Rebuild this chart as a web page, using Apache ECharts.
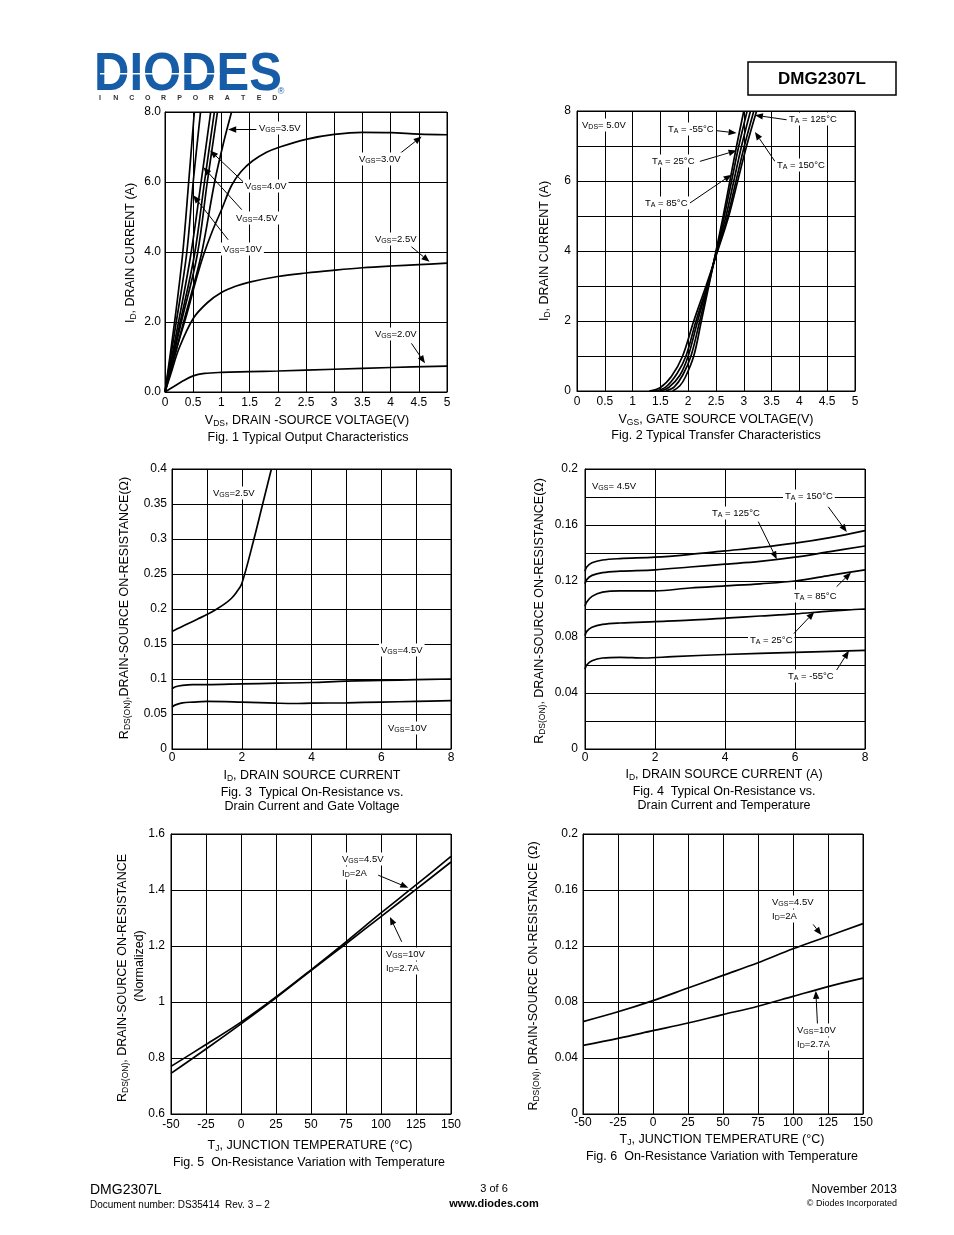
<!DOCTYPE html>
<html><head><meta charset="utf-8">
<script src="https://cdn.jsdelivr.net/npm/echarts@6/dist/echarts.min.js"></script>
<style>html,body{margin:0;padding:0;background:#fff}#c{width:954px;height:1235px}</style>
</head><body><div id="c"></div>
<script>
// ================= DATA =================
// Fig.1 Typical Output Characteristics  [VDS (V), ID (A)]
const fig1_lineA   = [[0,0],[0.17,2],[0.31,3.9],[0.42,6],[0.52,8]];
const fig1_vgs10   = [[0,0],[0.2,2],[0.38,3.9],[0.5,6],[0.63,8]];
const fig1_vgs45   = [[0,0],[0.24,2],[0.455,3.9],[0.64,6],[0.81,8]];
const fig1_lineD   = [[0,0],[0.27,2],[0.52,3.9],[0.7,6],[0.875,8]];
const fig1_vgs40   = [[0,0],[0.29,2],[0.57,3.9],[0.75,6],[0.93,8]];
const fig1_vgs35   = [[0,0],[0.33,2],[0.64,3.9],[0.88,6],[1.05,7.2],[1.18,8]];
const fig1_vgs30   = [[0,0],[0.2,1.2],[0.4,2.3],[0.55,3.2],[0.68,3.9],[0.84,4.6],[1.0,5.2],[1.18,5.9],[1.35,6.3],[1.55,6.6],[1.8,6.85],[2.0,6.98],[2.5,7.22],[3.0,7.36],[3.5,7.42],[4.0,7.41],[4.5,7.37],[5.0,7.35]];
const fig1_vgs25   = [[0,0],[0.1,0.5],[0.25,1.25],[0.5,2.1],[0.75,2.55],[1,2.84],[1.25,3.02],[1.5,3.14],[2,3.3],[2.5,3.4],[3,3.48],[3.5,3.55],[4,3.6],[4.5,3.64],[5,3.68]];
const fig1_vgs20   = [[0,0],[0.15,0.15],[0.3,0.3],[0.5,0.46],[0.7,0.53],[1,0.56],[1.5,0.58],[2,0.6],[3,0.65],[4,0.7],[5,0.74]];

// Fig.2 Typical Transfer Characteristics [VGS (V), ID (A)]
const fig2_tm55  = [[1.72,0],[1.85,0.15],[1.95,0.4],[2.1,1.0],[2.23,1.95],[2.37,3.0],[2.5,4.0],[2.63,5.0],[2.75,6.0],[2.87,7.0],[3.0,8]];
const fig2_t25   = [[1.6,0],[1.75,0.12],[1.9,0.45],[2.05,1.0],[2.2,1.95],[2.36,3.0],[2.51,4.0],[2.65,5.0],[2.78,6.0],[2.91,7.0],[3.06,8]];
const fig2_t85   = [[1.5,0],[1.65,0.1],[1.85,0.45],[2.0,1.0],[2.17,2.0],[2.35,3.0],[2.51,4.0],[2.68,5.0],[2.82,6.0],[2.96,7.0],[3.12,8]];
const fig2_t125  = [[1.4,0],[1.6,0.12],[1.8,0.5],[1.96,1.0],[2.14,2.0],[2.34,3.0],[2.52,4.0],[2.71,5.0],[2.86,6.0],[3.01,7.0],[3.18,8]];
const fig2_t150  = [[1.3,0],[1.5,0.1],[1.7,0.42],[1.9,1.0],[2.1,2.0],[2.32,3.0],[2.53,4.0],[2.73,5.0],[2.89,6.0],[3.05,7.0],[3.23,8]];

// Fig.3 RDS(ON) vs ID and VGS [ID (A), RDS (ohm)]
const fig3_vgs25 = [[0,0.168],[0.25,0.174],[0.5,0.18],[0.75,0.186],[1,0.192],[1.25,0.199],[1.5,0.207],[1.7,0.215],[1.85,0.224],[2,0.236],[2.35,0.3],[2.6,0.35],[2.85,0.4]];
const fig3_vgs45 = [[0,0.086],[0.1,0.089],[0.3,0.091],[0.6,0.092],[1,0.092],[2,0.093],[3,0.094],[4,0.095],[5,0.097],[6,0.098],[7,0.099],[8,0.1]];
const fig3_vgs10 = [[0,0.06],[0.1,0.063],[0.3,0.066],[0.6,0.067],[1,0.068],[2,0.067],[3,0.0655],[3.5,0.065],[4,0.0655],[5,0.066],[6,0.067],[7,0.068],[8,0.069]];

// Fig.4 RDS(ON) vs ID and Temperature [ID (A), RDS (ohm)]
const fig4_t150 = [[0,0.127],[0.05,0.13],[0.2,0.133],[0.5,0.135],[1,0.136],[2,0.137],[3,0.139],[4,0.1415],[5,0.144],[6,0.147],[7,0.151],[8,0.156]];
const fig4_t125 = [[0,0.118],[0.05,0.121],[0.2,0.124],[0.5,0.126],[1,0.127],[2,0.128],[3,0.13],[4,0.132],[5,0.134],[6,0.137],[7,0.141],[8,0.145]];
const fig4_t85  = [[0,0.102],[0.05,0.105],[0.2,0.109],[0.5,0.112],[1,0.113],[2,0.113],[3,0.115],[4,0.1165],[5,0.118],[6,0.12],[7,0.124],[8,0.128]];
const fig4_t25  = [[0,0.081],[0.05,0.084],[0.2,0.087],[0.5,0.089],[1,0.09],[2,0.091],[3,0.092],[4,0.0935],[5,0.095],[6,0.0965],[7,0.0985],[8,0.1]];
const fig4_tm55 = [[0,0.057],[0.05,0.06],[0.2,0.063],[0.5,0.065],[1,0.0655],[1.7,0.065],[2.5,0.066],[4,0.0675],[6,0.069],[8,0.0705]];

// Fig.5 Normalized RDS(ON) vs TJ [TJ (C), normalized]
const fig5_temps = [-50,-25,0,25,50,75,100,125,150];
const fig5_vgs45 = [0.77,0.848,0.928,1.018,1.115,1.215,1.318,1.418,1.52];
const fig5_vgs10 = [0.745,0.832,0.922,1.015,1.112,1.208,1.305,1.402,1.50];

// Fig.6 RDS(ON) vs TJ [TJ (C), ohm]
const fig6_temps = [-50,-25,0,25,50,75,100,125,150];
const fig6_vgs45 = [0.066,0.073,0.081,0.09,0.099,0.108,0.118,0.127,0.136];
const fig6_vgs10 = [0.049,0.054,0.0595,0.065,0.071,0.077,0.084,0.091,0.097];

// ================= ANNOTATION ARROWS (data units: [from],[to]) =================
const arrows1 = [[[1.62,7.5],[1.12,7.5]],[[1.39,6.0],[0.8,6.9]],[[1.36,5.21],[0.68,6.42]],[[1.12,4.35],[0.5,5.62]],[[4.17,6.82],[4.55,7.3]],[[4.37,4.15],[4.69,3.72]],[[4.37,1.39],[4.61,0.82]]];
const arrows2 = [[[2.5,7.44],[2.87,7.37]],[[2.21,6.56],[2.87,6.87]],[[2.03,5.37],[2.78,6.18]],[[3.77,7.75],[3.2,7.88]],[[3.56,6.56],[3.2,7.4]]];
const arrows4 = [[[6.95,0.173],[7.48,0.155]],[[4.95,0.1624],[5.48,0.1355]],[[7.19,0.116],[7.6,0.126]],[[5.9,0.0807],[6.55,0.0979]],[[7.19,0.0564],[7.54,0.0702]]];
const arrows5 = [[[98,1.453],[119.5,1.408]],[[114.8,1.215],[106.4,1.304]]];
const arrows6 = [[[114.4,0.1354],[120.3,0.1278]],[[117.5,0.0634],[116.3,0.088]]];

// ================= BUILD =================
const FONT = '"Liberation Sans", Arial, sans-serif';
const zip = (xs, ys) => xs.map((x, i) => [x, ys[i]]);

const grids = [
  {left:165, top:112, width:282, height:280},
  {left:577, top:111, width:278, height:280},
  {left:172, top:469, width:279, height:280},
  {left:585, top:469, width:280, height:280},
  {left:171, top:834, width:280, height:280},
  {left:583, top:834, width:280, height:280}
].map(g => Object.assign({show:true, borderColor:'#000', borderWidth:1, containLabel:false, outerBoundsMode:'none'}, g));

function ax(gi, min, max, interval, margin, formatter) {
  return {gridIndex:gi, type:'value', min, max, interval,
    axisLine:{show:true, onZero:false, lineStyle:{color:'#000', width:1}},
    axisTick:{show:false},
    splitLine:{show:true, lineStyle:{color:'#000', width:1}},
    axisLabel:{color:'#000', fontSize:12, fontFamily:FONT, margin, formatter, showMinLabel:true, showMaxLabel:true}};
}
const xAxes = [
  ax(0, 0, 5, 0.5, 5),
  ax(1, 0, 5, 0.5, 5),
  ax(2, 0, 8, 1, 3, v => (Math.round(v) % 2 === 0 ? String(Math.round(v)) : '')),
  ax(3, 0, 8, 2, 3),
  ax(4, -50, 150, 25, 5),
  ax(5, -50, 150, 25, 3)
];
const yAxes = [
  ax(0, 0, 8, 2, 4, v => v.toFixed(1)),
  ax(1, 0, 8, 1, 6, v => (Math.round(v) % 2 === 0 ? String(Math.round(v)) : '')),
  ax(2, 0, 0.4, 0.05, 5, v => String(+v.toFixed(2))),
  ax(3, 0, 0.2, 0.02, 7, v => (Math.round(v / 0.02) % 2 === 0 ? String(+v.toFixed(2)) : '')),
  ax(4, 0.6, 1.6, 0.2, 6, v => String(+v.toFixed(1))),
  ax(5, 0, 0.2, 0.04, 5, v => String(+v.toFixed(2)))
];

function curve(gi, data) {
  return {type:'line', xAxisIndex:gi, yAxisIndex:gi, data, smooth:0.35, symbol:'none', showSymbol:false,
    lineStyle:{color:'#000', width:1.7}, silent:true, animation:false, z:3};
}
function arrowSeries(gi, arrows) {
  return {type:'custom', xAxisIndex:gi, yAxisIndex:gi, silent:true, animation:false, clip:false, z:6,
    encode:{x:[0,2], y:[1,3]},
    data: arrows.map(a => [a[0][0], a[0][1], a[1][0], a[1][1]]),
    renderItem: function (params, api) {
      const p1 = api.coord([api.value(0), api.value(1)]);
      const p2 = api.coord([api.value(2), api.value(3)]);
      const dx = p2[0] - p1[0], dy = p2[1] - p1[1];
      const len = Math.sqrt(dx * dx + dy * dy) || 1;
      const ux = dx / len, uy = dy / len;
      const hl = 8, hw = 3.2;
      const bx = p2[0] - ux * hl, by = p2[1] - uy * hl;
      return {type:'group', children:[
        {type:'line', shape:{x1:p1[0], y1:p1[1], x2:bx, y2:by}, style:{stroke:'#000', lineWidth:1}},
        {type:'polygon', shape:{points:[[p2[0], p2[1]], [bx - uy * hw, by + ux * hw], [bx + uy * hw, by - ux * hw]]}, style:{fill:'#000'}}
      ]};
    }};
}

const series = [
  curve(0, fig1_lineA), curve(0, fig1_vgs10), curve(0, fig1_vgs45), curve(0, fig1_lineD),
  curve(0, fig1_vgs40), curve(0, fig1_vgs35), curve(0, fig1_vgs30), curve(0, fig1_vgs25), curve(0, fig1_vgs20),
  curve(1, fig2_tm55), curve(1, fig2_t25), curve(1, fig2_t85), curve(1, fig2_t125), curve(1, fig2_t150),
  curve(2, fig3_vgs25), curve(2, fig3_vgs45), curve(2, fig3_vgs10),
  curve(3, fig4_t150), curve(3, fig4_t125), curve(3, fig4_t85), curve(3, fig4_t25), curve(3, fig4_tm55),
  curve(4, zip(fig5_temps, fig5_vgs45)), curve(4, zip(fig5_temps, fig5_vgs10)),
  curve(5, zip(fig6_temps, fig6_vgs45)), curve(5, zip(fig6_temps, fig6_vgs10)),
  arrowSeries(0, arrows1), arrowSeries(1, arrows2), arrowSeries(3, arrows4), arrowSeries(4, arrows5), arrowSeries(5, arrows6)
];

// ---------- text helpers ----------
const RICH_AX = {s:{fontSize:8.5, padding:[6,0,0,0], verticalAlign:'middle'}};
const RICH_AN = {s:{fontSize:7, padding:[5,0,0,0], verticalAlign:'middle'}};
function T(x, y, text, o) {
  o = o || {};
  return {type:'text', x, y, z:100, silent:true, rotation:o.rot || 0, scaleX:o.sx || 1, scaleY:o.sy || 1,
    style:{text, fill:o.fill || '#000', fontSize:o.fs || 12.5, fontFamily:o.ff || FONT, fontWeight:o.fw || 'normal',
      align:o.align || 'left', verticalAlign:o.va || 'middle', rich:o.rich, backgroundColor:o.bg, padding:o.pad, lineHeight:o.lh}};
}
const AX = (x, y, t) => T(x, y, t, {align:'center', rich:RICH_AX});
const YT = (x, y, t) => T(x, y, t, {align:'center', rich:RICH_AX, rot:Math.PI / 2});
const CAP = (x, y, t) => T(x, y, t, {align:'center'});
const AN = (x, y, t) => T(x - 2, y, t, {fs:9.5, rich:RICH_AN, bg:'#fff', pad:[0, 2], lh:13});

const graphics = [];
// header logo
graphics.push(T(94, 75, 'DIODES', {fs:49, fw:900, fill:'#175ca6', sy:1.08}));
graphics.push({type:'rect', z:101, silent:true, shape:{x:100, y:73, width:120, height:1.6}, style:{fill:'#fff'}});
'INCORPORATED'.split('').forEach((ch, i) => graphics.push(T(100 + i * 15.9, 98, ch, {fs:7, fw:'bold', fill:'#333', align:'center'})));
graphics.push(T(281, 92, '®', {fs:9, fill:'#175ca6', align:'center'}));
graphics.push({type:'rect', z:100, silent:true, shape:{x:748, y:62, width:148, height:33}, style:{fill:'none', stroke:'#000', lineWidth:1.5}});
graphics.push(T(822, 79, 'DMG2307L', {fs:17, fw:'bold', align:'center'}));

// Fig 1
graphics.push(AX(307, 421, 'V{s|DS}, DRAIN -SOURCE VOLTAGE(V)'));
graphics.push(CAP(308, 438, 'Fig. 1 Typical Output Characteristics'));
graphics.push(YT(131, 253, 'I{s|D}, DRAIN CURRENT (A)'));
graphics.push(AN(259, 128, 'V{s|GS}=3.5V'));
graphics.push(AN(245, 186, 'V{s|GS}=4.0V'));
graphics.push(AN(236, 218, 'V{s|GS}=4.5V'));
graphics.push(AN(223, 249, 'V{s|GS}=10V'));
graphics.push(AN(359, 159, 'V{s|GS}=3.0V'));
graphics.push(AN(375, 239, 'V{s|GS}=2.5V'));
graphics.push(AN(375, 334, 'V{s|GS}=2.0V'));

// Fig 2
graphics.push(AX(716, 420, 'V{s|GS}, GATE SOURCE VOLTAGE(V)'));
graphics.push(CAP(716, 436, 'Fig. 2 Typical Transfer Characteristics'));
graphics.push(YT(545, 251, 'I{s|D}, DRAIN CURRENT (A)'));
graphics.push(AN(582, 125, 'V{s|DS}= 5.0V'));
graphics.push(AN(668, 129, 'T{s|A} = -55°C'));
graphics.push(AN(652, 161, 'T{s|A} = 25°C'));
graphics.push(AN(645, 203, 'T{s|A} = 85°C'));
graphics.push(AN(789, 119, 'T{s|A} = 125°C'));
graphics.push(AN(777, 165, 'T{s|A} = 150°C'));

// Fig 3
graphics.push(AX(312, 776, 'I{s|D}, DRAIN SOURCE CURRENT'));
graphics.push(CAP(312, 793, 'Fig. 3  Typical On-Resistance vs.'));
graphics.push(CAP(312, 807, 'Drain Current and Gate Voltage'));
graphics.push(YT(125, 608, 'R{s|DS(ON)},DRAIN-SOURCE ON-RESISTANCE(Ω)'));
graphics.push(AN(213, 493, 'V{s|GS}=2.5V'));
graphics.push(AN(381, 650, 'V{s|GS}=4.5V'));
graphics.push(AN(388, 728, 'V{s|GS}=10V'));

// Fig 4
graphics.push(AX(724, 775, 'I{s|D}, DRAIN SOURCE CURRENT (A)'));
graphics.push(CAP(724, 792, 'Fig. 4  Typical On-Resistance vs.'));
graphics.push(CAP(724, 806, 'Drain Current and Temperature'));
graphics.push(YT(540, 611, 'R{s|DS(ON)}, DRAIN-SOURCE ON-RESISTANCE(Ω)'));
graphics.push(AN(592, 486, 'V{s|GS}= 4.5V'));
graphics.push(AN(785, 496, 'T{s|A} = 150°C'));
graphics.push(AN(712, 513, 'T{s|A} = 125°C'));
graphics.push(AN(794, 596, 'T{s|A} = 85°C'));
graphics.push(AN(750, 640, 'T{s|A} = 25°C'));
graphics.push(AN(788, 676, 'T{s|A} = -55°C'));

// Fig 5
graphics.push(AX(310, 1146, 'T{s|J}, JUNCTION TEMPERATURE (°C)'));
graphics.push(CAP(309, 1163, 'Fig. 5  On-Resistance Variation with Temperature'));
graphics.push(YT(123, 978, 'R{s|DS(ON)}, DRAIN-SOURCE ON-RESISTANCE'));
graphics.push(YT(140, 966, '(Normalized)'));
graphics.push(AN(342, 859, 'V{s|GS}=4.5V'));
graphics.push(AN(342, 873, 'I{s|D}=2A'));
graphics.push(AN(386, 954, 'V{s|GS}=10V'));
graphics.push(AN(386, 968, 'I{s|D}=2.7A'));

// Fig 6
graphics.push(AX(722, 1140, 'T{s|J}, JUNCTION TEMPERATURE (°C)'));
graphics.push(CAP(722, 1157, 'Fig. 6  On-Resistance Variation with Temperature'));
graphics.push(YT(534, 976, 'R{s|DS(ON)}, DRAIN-SOURCE ON-RESISTANCE (Ω)'));
graphics.push(AN(772, 902, 'V{s|GS}=4.5V'));
graphics.push(AN(772, 916, 'I{s|D}=2A'));
graphics.push(AN(797, 1030, 'V{s|GS}=10V'));
graphics.push(AN(797, 1044, 'I{s|D}=2.7A'));

// footer
graphics.push(T(90, 1190, 'DMG2307L', {fs:14}));
graphics.push(T(90, 1205, 'Document number: DS35414  Rev. 3 – 2', {fs:10}));
graphics.push(T(494, 1189, '3 of 6', {fs:11, align:'center'}));
graphics.push(T(494, 1204, 'www.diodes.com', {fs:11, fw:'bold', align:'center'}));
graphics.push(T(897, 1190, 'November 2013', {fs:12, align:'right'}));
graphics.push(T(897, 1204, '© Diodes Incorporated', {fs:9, align:'right'}));

const chart = echarts.init(document.getElementById('c'), null, {renderer:'canvas'});
chart.setOption({
  backgroundColor:'#fff',
  animation:false,
  textStyle:{fontFamily:FONT},
  grid:grids, xAxis:xAxes, yAxis:yAxes, series,
  graphic:{elements:graphics}
});
</script>
</body></html>
